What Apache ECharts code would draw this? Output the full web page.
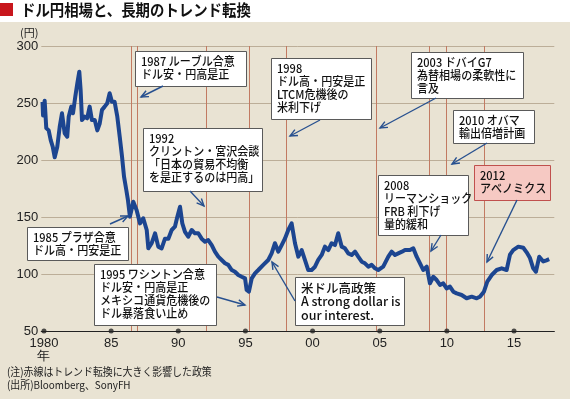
<!DOCTYPE html>
<html><head><meta charset="utf-8">
<script src="https://cdn.jsdelivr.net/npm/echarts@6/dist/echarts.min.js"></script>
<style>html,body{margin:0;padding:0;background:#e9e3d3}#c{width:570px;height:399px}</style>
</head><body><div id="c"></div>
<script>
// ---- data (USD/JPY) ----
const years = [1979.89,1979.93,1980.05,1980.17,1980.35,1980.50,1980.65,1980.80,1980.99,1981.17,1981.34,1981.54,1981.73,1981.84,1982.03,1982.16,1982.33,1982.48,1982.63,1982.73,1982.83,1983.03,1983.22,1983.40,1983.57,1983.78,1983.97,1984.15,1984.32,1984.52,1984.71,1984.89,1985.06,1985.26,1985.46,1985.64,1985.81,1985.96,1986.13,1986.25,1986.40,1986.65,1986.90,1987.15,1987.39,1987.65,1987.77,1988.02,1988.27,1988.51,1988.76,1989.01,1989.26,1989.51,1989.75,1989.93,1990.13,1990.30,1990.50,1990.74,1991.00,1991.24,1991.49,1991.74,1991.99,1992.23,1992.49,1992.73,1992.98,1993.23,1993.48,1993.72,1993.98,1994.22,1994.47,1994.72,1994.97,1995.09,1995.26,1995.47,1995.71,1995.96,1996.33,1996.70,1996.95,1997.20,1997.45,1997.70,1997.94,1998.19,1998.44,1998.69,1998.94,1999.19,1999.43,1999.68,1999.93,2000.18,2000.42,2000.68,2000.92,2001.17,2001.42,2001.67,2001.91,2002.17,2002.41,2002.66,2002.91,2003.16,2003.40,2003.66,2003.90,2004.15,2004.40,2004.65,2004.89,2005.26,2005.64,2005.89,2006.14,2006.38,2006.66,2006.88,2007.25,2007.50,2007.75,2008.00,2008.24,2008.50,2008.74,2008.99,2009.24,2009.49,2009.73,2009.98,2010.23,2010.48,2010.73,2011.10,2011.47,2011.85,2012.22,2012.46,2012.76,2013.01,2013.34,2013.71,2014.08,2014.45,2014.70,2014.94,2015.32,2015.69,2015.94,2016.19,2016.43,2016.63,2016.88,2017.18,2017.41,2017.62];
const rates = [251,239,252,228,226,217.5,211.7,202.4,211.7,229,241,223.4,220.4,238,246.8,241,255.5,267,277.5,261,235,238,236.6,246.8,235,235,226,232,244,246.8,249.7,258.5,251,251,238,220.4,203,185.4,173.7,165,150.3,163.4,156,144.4,148.9,138.6,122.5,127,135.7,124,122.5,131,131,138.6,141.5,150.3,159,144.4,137,132.7,138.6,135.7,135.7,131,128.3,129.8,125.4,119.6,115.2,112.3,109.4,108,103.5,102,99.1,97.6,96.2,86,84.5,96.2,100.6,103.5,108,112.3,118.1,127,119.6,125.4,131,138.6,144.4,127,115.2,121,112.3,103.5,103.5,106.4,112.3,116.7,124,121,127,125.4,135.7,124,122.5,118.1,116.7,119.6,115.2,110.8,109.4,106.4,108,105,103.5,106.4,115.2,119.6,116.7,118.1,119.6,121,121,122.5,115.2,109.4,103.5,106.4,91.8,97.6,94.7,90.4,91.8,87.4,88.9,84.5,83,81.6,78.7,80.1,78.7,80.1,84.5,93.3,99.1,103.5,105,103.5,117,121,124,123,119,114,105,102,115.2,111,112,113];
const eventYears = [1986.48,1986.92,1992.10,1995.26,1998.07,2004.77,2008.67,2009.98,2012.76];
const tickYears = [1980,1985,1990,1995,2000,2005,2010,2015];
const yTickValues = [50,100,150,200,250,300];
const titleText = 'ドル円相場と、長期のトレンド転換';
const unitText = '(円)';
const noteLines = ['(注)赤線はトレンド転換に大きく影響した政策','(出所)Bloomberg、SonyFH'];
const annoTexts = [
  ['1987 ルーブル合意','ドル安・円高是正'],
  ['1998','ドル高・円安是正','LTCM危機後の','米利下げ'],
  ['1992','クリントン・宮沢会談','「日本の貿易不均衡','を是正するのは円高」'],
  ['2003 ドバイG7','為替相場の柔軟性に','言及'],
  ['2010 オバマ','輸出倍増計画'],
  ['2012','アベノミクス'],
  ['2008','リーマンショック','FRB 利下げ','量的緩和'],
  ['米ドル高政策','A strong dollar is','our interest.'],
  ['1985 プラザ合意','ドル高・円安是正'],
  ['1995 ワシントン合意','ドル安・円高是正','メキシコ通貨危機後の','ドル暴落食い止め']
];
// ---- layout of annotation boxes (pixels) ----
const annoLayout = [
  {box:[135,51,111,35], arrow:[163,86,141,97]},
  {box:[271,58,100,61], arrow:[320,120,290,136]},
  {box:[143,128,119,63], arrow:[190,191,204,206]},
  {box:[411,52,112,46], arrow:[436,98,380,128]},
  {box:[453,110,81,33], arrow:[487,143,452,164]},
  {box:[474,165,76,35], arrow:[517,200,487,262], pink:true},
  {box:[378,175,90,60], arrow:[441,235,431,251]},
  {box:[295,277,109,48], arrow:[295,301,272,262], big:true},
  {box:[27,227,101,33], arrow:[110,224,128,216]},
  {box:[94,264,122,61], arrow:[217,297,245,305]}
];

const JP = '"Noto Sans CJK JP","Noto Sans",sans-serif';
const chart = echarts.init(document.getElementById('c'));
const graphics = [];
graphics.push({type:'rect',shape:{x:0,y:0,width:570,height:22},style:{fill:'#ffffff'},z:1});
graphics.push({type:'rect',shape:{x:0,y:3,width:13,height:13},style:{fill:'#c8161d'},z:2});
graphics.push({type:'text',x:21,y:10,scaleX:0.9,style:{text:titleText,font:'bold 16px '+JP,fill:'#111',verticalAlign:'middle'},z:2});
graphics.push({type:'text',x:20,y:33,style:{text:unitText,font:'11px '+JP,fill:'#222',verticalAlign:'middle'},z:2});
noteLines.forEach((t,i)=>graphics.push({type:'text',x:7,y:372+i*13,scaleX:0.9,style:{text:t,font:'11px '+JP,fill:'#222',verticalAlign:'middle'},z:2}));

function arrowShape(x1,y1,x2,y2){
  const a=Math.atan2(y2-y1,x2-x1), L=8, s=0.42;
  return [
    {type:'polyline',shape:{points:[[x1,y1],[x2,y2]]},style:{stroke:'#27508f',lineWidth:1.4,fill:null},z:20},
    {type:'polyline',shape:{points:[[x2-L*Math.cos(a-s),y2-L*Math.sin(a-s)],[x2,y2],[x2-L*Math.cos(a+s),y2-L*Math.sin(a+s)]]},style:{stroke:'#27508f',lineWidth:1.4,fill:null},z:20}
  ];
}
annoLayout.forEach((a,i)=>{
  const [x,y,w,h]=a.box;
  graphics.push({type:'rect',shape:{x:x+0.5,y:y+0.5,width:w,height:h},style:{fill:a.pink?'#f6c9c3':'#ffffff',stroke:a.pink?'#c0504d':'#5a5a5a',lineWidth:1},z:18});
  graphics.push({type:'text',x:x+6,y:y+4,scaleX:a.big?1:0.92,style:{text:annoTexts[i].join('\n'),font:(a.big?'500 12.5px ':'500 12px ')+JP,lineHeight:a.big?13.5:13,fill:'#111',verticalAlign:'top'},z:19});
  arrowShape(...a.arrow).forEach(g=>graphics.push(g));
});

chart.setOption({
  backgroundColor:'#e9e3d3',
  animation:false,
  grid:{left:41.3,right:15.7,top:46,bottom:68},
  xAxis:{type:'value',min:1979.8,max:2018,
    axisLine:{show:true,onZero:false,lineStyle:{color:'#222',width:1.2}},
    axisTick:{show:false},splitLine:{show:false},
    axisLabel:{customValues:tickYears,margin:6,color:'#222',fontSize:13,fontFamily:'"Liberation Sans",Arial,sans-serif',lineHeight:13,
      formatter:v=>v===1980?'1980\n年':String(v%100).padStart(2,'0')}},
  yAxis:{type:'value',min:50,max:300,interval:50,
    axisLine:{show:false},axisTick:{show:false},
    splitLine:{show:true,lineStyle:{color:'#bcae98',width:1}},
    axisLabel:{margin:3,color:'#222',fontSize:13,fontFamily:'"Liberation Sans",Arial,sans-serif',
      formatter:v=>yTickValues.includes(v)?String(v):''}},
  series:[
    {type:'line',data:[],z:1,silent:true,
      markLine:{silent:true,symbol:['none','none'],label:{show:false},lineStyle:{color:'#c27a62',width:1,type:'solid'},
        data:eventYears.map(v=>({xAxis:v}))}},
    {type:'line',data:years.map((y,i)=>[y,rates[i]]),showSymbol:false,z:5,
      lineStyle:{color:'#1c4590',width:4,join:'round'}},
    {type:'scatter',data:tickYears.map(y=>[y,50]),symbol:'circle',symbolSize:5,itemStyle:{color:'#222'},z:6}
  ],
  graphic:graphics
});
</script></body></html>
